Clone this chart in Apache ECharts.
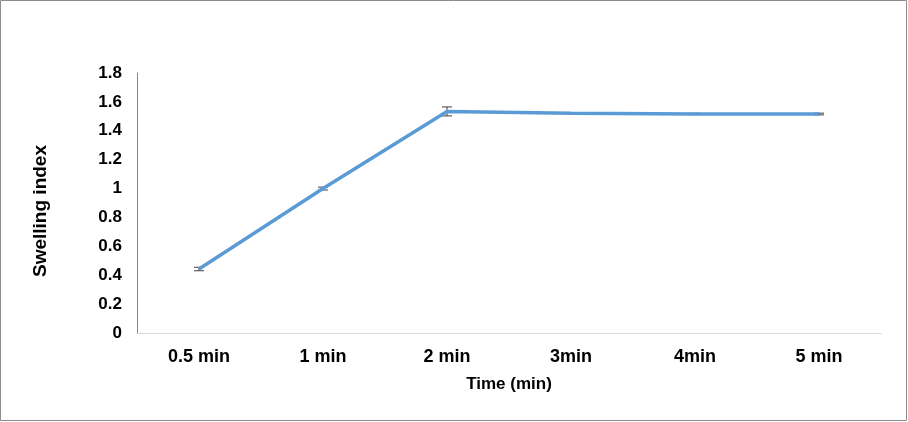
<!DOCTYPE html>
<html><head><meta charset="utf-8">
<script src="https://cdn.jsdelivr.net/npm/echarts@6/dist/echarts.min.js"></script>
<style>html,body{margin:0;padding:0;background:#fff}#c{width:908px;height:422px}</style>
</head><body><div id="c"></div>
<script>
var categories = ['0.5 min', '1 min', '2 min', '3min', '4min', '5 min'];
var swelling = [0.443, 1.0, 1.534, 1.522, 1.517, 1.516];
var errors = [0.012, 0.01, 0.031, 0.004, 0.004, 0.006];
var yTicks = [0, 0.2, 0.4, 0.6, 0.8, 1, 1.2, 1.4, 1.6, 1.8];
var yTitle = 'Swelling index';
var xTitle = 'Time (min)';

var chart = echarts.init(document.getElementById('c'));
var font = 'Liberation Sans, Arial, sans-serif';
chart.setOption({
  animation: false,
  graphic: [
    {type:'rect', shape:{x:0.5,y:0.5,width:906,height:420}, style:{fill:'none', stroke:'#8c8c8c', lineWidth:1}},
    {type:'text', x:41, y:211, rotation: Math.PI/2,
     style:{text: yTitle, fontFamily: font, fontWeight:'bold', fontSize: 19, fill:'#000', align:'center', verticalAlign:'middle'}}
  ],
  grid: {left: 137, right: 27, top: 73, bottom: 89},
  xAxis: {
    type: 'category', data: categories, boundaryGap: true,
    name: xTitle, nameLocation: 'middle', nameGap: 43,
    nameTextStyle: {fontFamily: font, fontWeight: 'bold', fontSize: 17, color: '#000'},
    axisLine: {lineStyle: {color: '#d9d9d9'}},
    axisTick: {show: false},
    axisLabel: {fontFamily: font, fontWeight: 'bold', fontSize: 18, color: '#000', margin: 15}
  },
  yAxis: {
    type: 'value', min: 0, max: 1.8, interval: 0.2,
    axisLine: {show: true, lineStyle: {color: '#8c8c6c'}},
    axisTick: {show: false},
    splitLine: {show: false},
    axisLabel: {fontFamily: font, fontWeight: 'bold', fontSize: 17, color: '#000', margin: 15,
      formatter: function(v){ return String(Math.round(v*10)/10); }}
  },
  series: [
    {type: 'custom', z: 1,
     data: swelling.map(function(v,i){ return [i, v, errors[i]]; }),
     renderItem: function(params, api){
       var x = api.value(0), v = api.value(1), e = api.value(2);
       var top = api.coord([x, v + e]);
       var bot = api.coord([x, v - e]);
       var hw = 5;
       return {type: 'group', children: [
         {type:'line', shape:{x1:top[0], y1:top[1], x2:bot[0], y2:bot[1]}, style:{stroke:'#404040', lineWidth:1}},
         {type:'line', shape:{x1:top[0]-hw, y1:top[1], x2:top[0]+hw, y2:top[1]}, style:{stroke:'#404040', lineWidth:1}},
         {type:'line', shape:{x1:bot[0]-hw, y1:bot[1], x2:bot[0]+hw, y2:bot[1]}, style:{stroke:'#404040', lineWidth:1}}
       ]};
     }
    },
    {type: 'line', data: swelling, symbol: 'none', lineStyle: {color: '#5b9bd5', width: 3.5}, z: 3}
  ]
});
</script></body></html>
